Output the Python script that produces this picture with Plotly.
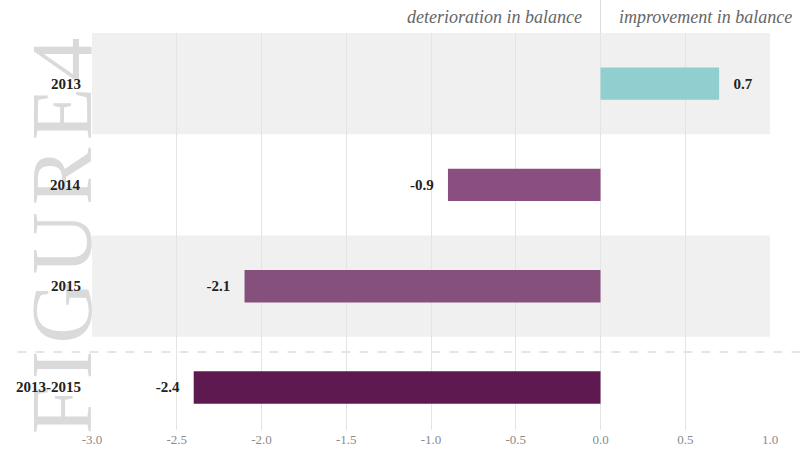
import plotly.graph_objects as go

categories = ["2013", "2014", "2015", "2013-2015"]
values = [0.7, -0.9, -2.1, -2.4]
bar_colors = ["#8fcfd0", "#8a4f80", "#85507b", "#5e1a50"]
x_ticks = [-3.0, -2.5, -2.0, -1.5, -1.0, -0.5, 0.0, 0.5, 1.0]
x_tick_labels = ["-3.0", "-2.5", "-2.0", "-1.5", "-1.0", "-0.5", "0.0", "0.5", "1.0"]

serif = "Liberation Serif, DejaVu Serif, serif"
pad = "\u00a0\u00a0\u00a0"
labels = [(pad + f"{v:.1f}") if v >= 0 else (f"{v:.1f}" + pad) for v in values]

fig = go.Figure()
fig.add_trace(go.Bar(
    y=categories, x=values, orientation="h",
    marker=dict(color=bar_colors, line=dict(width=0)),
    width=0.32,
    text=labels, textposition="outside", cliponaxis=False,
    textfont=dict(family=serif, size=15, color="#222222", weight="bold"),
    hoverinfo="skip",
))

shapes = []
for cat_lo, cat_hi in [(-0.5, 0.5), (1.5, 2.5)]:
    shapes.append(dict(type="rect", xref="x", yref="y", x0=-3.0, x1=1.0,
                       y0=cat_lo, y1=cat_hi, fillcolor="#f0f0f0",
                       line=dict(width=0), layer="below"))
shapes.append(dict(type="line", xref="paper", yref="y", x0=-0.11, x1=1.045,
                   y0=2.65, y1=2.65, line=dict(color="#cccccc", width=1.2, dash="dash"),
                   layer="below"))
shapes.append(dict(type="line", xref="x", yref="paper", x0=0, x1=0,
                   y0=1.0, y1=1.085, line=dict(color="#dddddd", width=1)))

watermark = "\u200a".join("FIGURE4")
annotations = [
    dict(text=watermark, xref="paper", yref="paper", x=-0.043, y=0.49,
         textangle=-90, showarrow=False, xanchor="center", yanchor="middle",
         font=dict(family=serif, size=86, color="#dadada")),
    dict(text="deterioration in balance", xref="x", yref="paper", x=-0.1, y=1.04,
         xanchor="right", yanchor="middle", showarrow=False,
         font=dict(family=serif, size=18, color="#666666", style="italic")),
    dict(text="improvement in balance", xref="x", yref="paper", x=0.1, y=1.04,
         xanchor="left", yanchor="middle", showarrow=False,
         font=dict(family=serif, size=18, color="#666666", style="italic")),
]
for i, c in enumerate(categories):
    annotations.append(dict(text=c, xref="paper", yref="y", x=-0.014, y=i,
                            xanchor="right", yanchor="middle", showarrow=False,
                            font=dict(family=serif, size=15, color="#222222", weight="bold")))

fig.update_layout(
    width=803, height=464,
    margin=dict(l=92, r=33, t=33, b=34),
    paper_bgcolor="white", plot_bgcolor="white",
    showlegend=False,
    shapes=shapes, annotations=annotations,
    xaxis=dict(range=[-3.0, 1.0], tickvals=x_ticks, ticktext=x_tick_labels,
               showgrid=True, gridcolor="#e4e4e4", gridwidth=1,
               zeroline=False, showline=False, ticks="",
               tickfont=dict(family=serif, size=13, color="#8a8a8a"),
               fixedrange=True),
    yaxis=dict(categoryorder="array", categoryarray=categories,
               range=[3.42, -0.5], showgrid=False, zeroline=False,
               showticklabels=False, ticks="", fixedrange=True),
)

fig.write_html("out.html")
